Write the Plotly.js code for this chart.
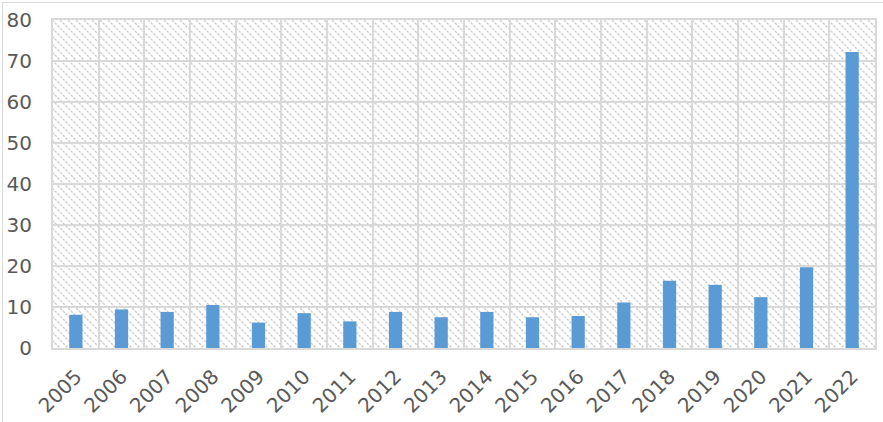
<!DOCTYPE html>
<html>
<head>
<meta charset="utf-8">
<script src="https://cdn.plot.ly/plotly-3.0.1.min.js"></script>
<style>
  html, body { margin: 0; padding: 0; background: #fff; overflow: hidden; }
  #wrap { position: relative; width: 883px; height: 422px; }
  #chart { width: 883px; height: 422px; }
  #frame { position: absolute; left: 2px; top: 2px; width: 900px; height: 440px;
           border: 1.5px solid #d9d9d9; pointer-events: none; }
</style>
</head>
<body>
<div id="wrap">
  <div id="chart"></div>
  <div id="frame"></div>
</div>
<script>
const years = ['2005','2006','2007','2008','2009','2010','2011','2012','2013',
               '2014','2015','2016','2017','2018','2019','2020','2021','2022'];
const values = [8.1, 9.4, 8.8, 10.5, 6.2, 8.5, 6.5, 8.8, 7.5,
                8.8, 7.5, 7.8, 11.1, 16.4, 15.4, 12.4, 19.7, 72.2];
const yTicks = [0, 10, 20, 30, 40, 50, 60, 70, 80];

const grid = '#d9d9d9';
const txt = '#595959';
const fontFam = 'DejaVu Sans, sans-serif';

const trace = {
  type: 'bar',
  x: years,
  y: values,
  marker: { color: '#5b9bd5' },
  hoverinfo: 'x+y'
};

const layout = {
  width: 883,
  height: 422,
  margin: { l: 53, r: 8, t: 20, b: 73.5, pad: 0 },
  paper_bgcolor: '#ffffff',
  plot_bgcolor: '#ffffff',
  bargap: 0.71,
  showlegend: false,
  font: { family: fontFam, size: 20, color: txt },
  xaxis: {
    type: 'category',
    tickson: 'boundaries',
    showgrid: true,
    gridcolor: grid,
    gridwidth: 2,
    showline: true,
    mirror: true,
    linecolor: grid,
    linewidth: 2,
    ticks: '',
    tickangle: -45,
    ticklabelstandoff: 7,
    automargin: false,
    tickfont: { family: fontFam, size: 20, color: txt },
    fixedrange: true
  },
  yaxis: {
    range: [0, 80],
    tickvals: yTicks,
    ticktext: yTicks.map(String),
    showgrid: true,
    gridcolor: grid,
    gridwidth: 2,
    zeroline: false,
    showline: true,
    mirror: true,
    linecolor: grid,
    linewidth: 2,
    ticks: '',
    ticklabelstandoff: 15,
    automargin: false,
    tickfont: { family: fontFam, size: 20, color: txt },
    fixedrange: true
  }
};

Plotly.newPlot('chart', [trace], layout, { displayModeBar: false, staticPlot: true }).then(function (gd) {
  const svgNS = 'http://www.w3.org/2000/svg';
  const mainSvg = gd.querySelector('svg.main-svg');
  let defs = mainSvg.querySelector('defs');
  if (!defs) { defs = document.createElementNS(svgNS, 'defs'); mainSvg.insertBefore(defs, mainSvg.firstChild); }
  const pat = document.createElementNS(svgNS, 'pattern');
  pat.setAttribute('id', 'hatchbg');
  pat.setAttribute('patternUnits', 'userSpaceOnUse');
  pat.setAttribute('width', '8');
  pat.setAttribute('height', '8');
  const base = document.createElementNS(svgNS, 'rect');
  base.setAttribute('width', '8'); base.setAttribute('height', '8'); base.setAttribute('fill', '#ffffff');
  pat.appendChild(base);
  const p = document.createElementNS(svgNS, 'path');
  p.setAttribute('d', 'M-1,-1 L9,9 M7,-1 L9,1 M-1,7 L1,9');
  p.setAttribute('stroke', '#cfcfcf');
  p.setAttribute('stroke-width', '1.5');
  p.setAttribute('stroke-dasharray', '2.5,1.2');
  pat.appendChild(p);
  defs.appendChild(pat);
  const sz = gd._fullLayout._size;
  const hatch = document.createElementNS(svgNS, 'rect');
  hatch.setAttribute('x', sz.l);
  hatch.setAttribute('y', sz.t);
  hatch.setAttribute('width', sz.w);
  hatch.setAttribute('height', sz.h);
  hatch.setAttribute('fill', 'url(#hatchbg)');
  const cart = mainSvg.querySelector('.cartesianlayer');
  cart.parentNode.insertBefore(hatch, cart);
  mainSvg.querySelectorAll('rect.bg').forEach(function (r) { r.style.fill = 'rgba(0,0,0,0)'; });
});
</script>
</body>
</html>
